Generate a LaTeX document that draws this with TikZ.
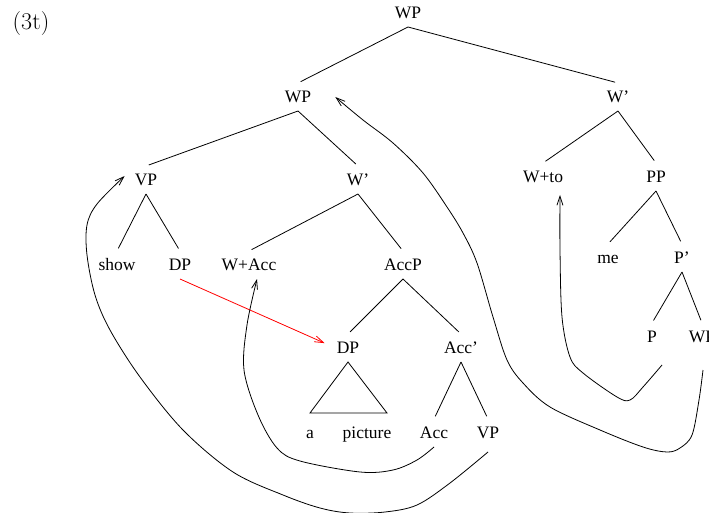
\documentclass[tikz,border=0pt]{standalone}
\usepackage{fontspec}
\newfontfamily\treefont[Ligatures=TeX]{Liberation Serif}
\usetikzlibrary{arrows.meta}

\begin{document}
\begin{tikzpicture}[x=1pt, y=-1pt,
  cat/.style={font=\treefont\fontsize{17.5}{20}\selectfont, text height=11.6pt, text depth=0pt, inner xsep=1pt, inner ysep=8pt},
  br/.style={line width=0.8pt, shorten >=3pt},
  mv/.style={line width=0.8pt, -{Straight Barb[length=9pt,width=6pt]}}]
\useasboundingbox (0,0) rectangle (709,513);
\node[font=\fontsize{24}{28}\selectfont] (ex) at (31,24) {(3t)};

% the tree
\node[cat] (wp0) at (408,13) {WP};
\node[cat] (wp1) at (298,97) {WP};
\node[cat] (wbar1) at (618,97) {W’};
\node[cat] (vp1) at (146,180) {VP};
\node[cat] (wbar2) at (358,180) {W’};
\node[cat] (wto) at (543,177) {W+to};
\node[cat] (pp) at (656,177) {PP};
\node[cat] (show) at (117,265) {show};
\node[cat] (dp1) at (180,265) {DP};
\node[cat] (wacc) at (249,265) {W+Acc};
\node[cat] (accp) at (403,265) {AccP};
\node[cat] (me) at (608,258) {me};
\node[cat] (pbar) at (682,258) {P’};
\node[cat] (dp2) at (348,348) {DP};
\node[cat] (accbar) at (461,348) {Acc’};
\node[cat] (p) at (652,337) {P};
\node[cat] (wp3) at (702,337) {WP};
\node[cat] (a) at (310,433) {a};
\node[cat] (pic) at (367,433) {picture};
\node[cat] (acc) at (434,433) {Acc};
\node[cat] (vp2) at (488,433) {VP};

\draw[br] (wp0.south) -- (wp1.north);
\draw[br] (wp0.south) -- (wbar1.north);
\draw[br] (wp1.south) -- (vp1.north);
\draw[br] (wp1.south) -- (wbar2.north);
\draw[br] (wbar1.south) -- (wto.north);
\draw[br] (wbar1.south) -- (pp.north);
\draw[br] (vp1.south) -- (show.north);
\draw[br] (vp1.south) -- (dp1.north);
\draw[br] (wbar2.south) -- (wacc.north);
\draw[br] (wbar2.south) -- (accp.north);
\draw[br] (pp.south) -- (me.north);
\draw[br] (pp.south) -- (pbar.north);
\draw[br] (accp.south) -- (dp2.north);
\draw[br] (accp.south) -- (accbar.north);
\draw[br] (pbar.south) -- (p.north);
\draw[br] (pbar.south) -- (wp3.north);
\draw[br] (accbar.south) -- (acc.north);
\draw[br] (accbar.south) -- (vp2.north);
\draw[line width=0.8pt] (dp2.south) -- ++(-38,51) -- ++(77,0) -- cycle;

% movement
\draw[mv, red, shorten >=12pt] (dp1.south) -- (dp2.west);
\draw[mv] plot[smooth, tension=0.55] coordinates {(acc.south) (417,460) (393,470) (360,472) (300,461) (277,448) (258,415) (244,370) (247,325) ([xshift=8pt]wacc.south)};
\draw[mv] plot[smooth, tension=0.55] coordinates {([yshift=-5pt]vp2.south) (450,483) (417,505) (385,512) (350,513) (320,508) (283,495) (233,472) (183,430) (140,377) (110,330) (95,295) (87,255) (87,225) (97,204) ([xshift=-9pt,yshift=4pt]vp1.west)};
\draw[mv] plot[smooth, tension=0.55] coordinates {([xshift=1pt,yshift=-19pt]wp3.south) (699,400) (692,435) (680,448) (667,452) (643,447) (600,430) (550,407) (523,383) (507,360) (493,317) (477,263) (463,233) (447,207) (423,173) (393,143) (363,120) ([xshift=23pt]wp1.east)};
\draw[mv] plot[smooth, tension=0.55] coordinates {([xshift=10pt,yshift=-14pt]p.south) (643,387) (630,400) (617,397) (583,373) (570,357) (562,317) (560,250) ([xshift=17pt,yshift=-4pt]wto.south)};
\end{tikzpicture}
\end{document}
